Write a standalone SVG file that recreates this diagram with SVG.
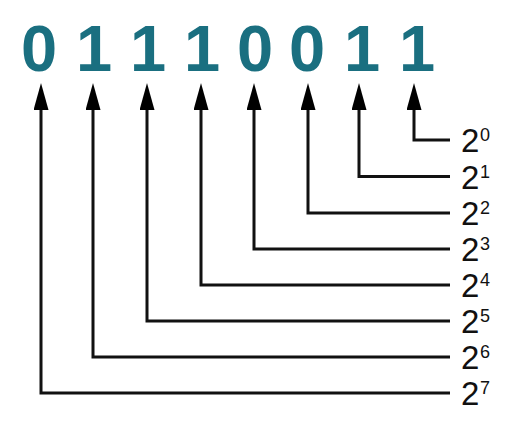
<svg xmlns="http://www.w3.org/2000/svg" width="527" height="428" viewBox="0 0 527 428">
<style>
.bit{font-family:"Liberation Sans",Arial,sans-serif;font-weight:bold;font-size:65px;fill:#1a6f80;text-anchor:middle}
.base{font-family:"Liberation Sans",Arial,sans-serif;font-size:33px;fill:#111}
.sup{font-family:"Liberation Sans",Arial,sans-serif;font-size:18px;fill:#111}
.c{fill:none;stroke:#111;stroke-width:3;marker-end:url(#ah)}
</style>
<defs>
<marker id="ah" markerUnits="userSpaceOnUse" markerWidth="27" markerHeight="15" refX="10" refY="7.5" orient="auto">
<path d="M0,0 L27,7.5 L0,15 z" fill="#000"/>
</marker>
</defs>
<g id="bits">
<text class="bit" x="39" y="71">0</text>
<text class="bit" x="94" y="71">1</text>
<text class="bit" x="148" y="71">1</text>
<text class="bit" x="202" y="71">1</text>
<text class="bit" x="255" y="71">0</text>
<text class="bit" x="307" y="71">0</text>
<text class="bit" x="362" y="71">1</text>
<text class="bit" x="417" y="71">1</text>
</g>
<g id="connectors">
<path class="c" d="M450,140 H414 V100"/>
<path class="c" d="M450,176.5 H359 V100"/>
<path class="c" d="M450,213 H308 V100"/>
<path class="c" d="M450,249 H254 V100"/>
<path class="c" d="M450,285 H201 V100"/>
<path class="c" d="M450,321 H147 V100"/>
<path class="c" d="M450,357 H93 V100"/>
<path class="c" d="M450,393 H41 V100"/>
</g>
<g id="labels">
<g id="p0"><text class="base" x="461" y="152">2</text><text class="sup" x="480" y="141">0</text></g>
<g id="p1"><text class="base" x="461" y="188.5">2</text><text class="sup" x="480" y="177.5">1</text></g>
<g id="p2"><text class="base" x="461" y="225">2</text><text class="sup" x="480" y="214">2</text></g>
<g id="p3"><text class="base" x="461" y="261">2</text><text class="sup" x="480" y="250">3</text></g>
<g id="p4"><text class="base" x="461" y="297">2</text><text class="sup" x="480" y="286">4</text></g>
<g id="p5"><text class="base" x="461" y="333">2</text><text class="sup" x="480" y="322">5</text></g>
<g id="p6"><text class="base" x="461" y="369">2</text><text class="sup" x="480" y="358">6</text></g>
<g id="p7"><text class="base" x="461" y="405">2</text><text class="sup" x="480" y="394">7</text></g>
</g>
</svg>
